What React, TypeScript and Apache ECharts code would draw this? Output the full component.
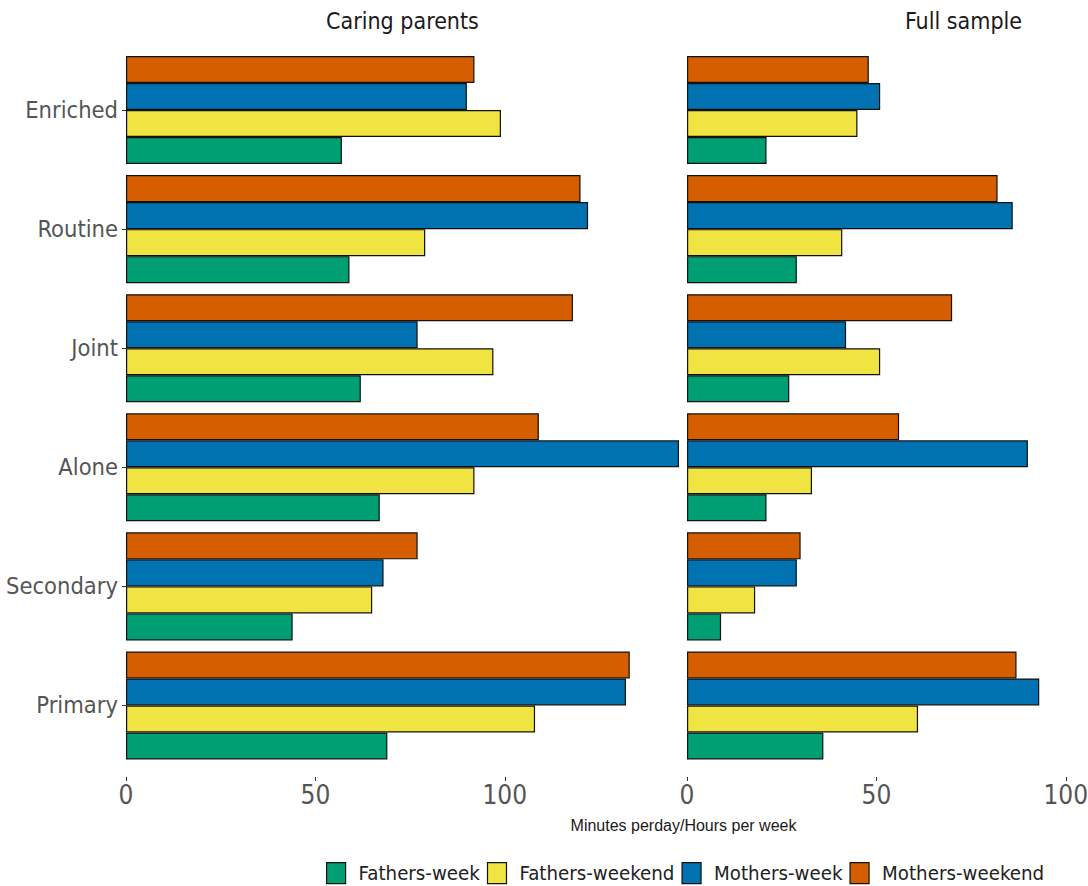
import React, { useEffect, useRef } from "react";
import * as echarts from "echarts";

const categories = ["Enriched", "Routine", "Joint", "Alone", "Secondary", "Primary"];
const seriesNames = ["Fathers-week", "Fathers-weekend", "Mothers-week", "Mothers-weekend"];
const seriesColors = ["#009E73", "#F0E442", "#0072B2", "#D55E00"];

// Caring parents
const fathersWeekCaring = [57, 59, 62, 67, 44, 69];
const fathersWeekendCaring = [99, 79, 97, 92, 65, 108];
const mothersWeekCaring = [90, 122, 77, 146, 68, 132];
const mothersWeekendCaring = [92, 120, 118, 109, 77, 133];

// Full sample
const fathersWeekFull = [21, 29, 27, 21, 9, 36];
const fathersWeekendFull = [45, 41, 51, 33, 18, 61];
const mothersWeekFull = [51, 86, 42, 90, 29, 93];
const mothersWeekendFull = [48, 82, 70, 56, 30, 87];

const panelTitles = ["Caring parents", "Full sample"];
const xTitle = "Minutes perday/Hours per week";

const NARROW = "'Liberation Sans Narrow', 'DejaVu Sans Condensed', 'Roboto Condensed', 'Liberation Sans', sans-serif";

export default function App() {
  const ref = useRef<HTMLDivElement>(null);

  useEffect(() => {
    document.body.style.margin = "0";
    if (!ref.current) return;
    const chart = echarts.init(ref.current, null, { renderer: "svg" });

    const caring = [fathersWeekCaring, fathersWeekendCaring, mothersWeekCaring, mothersWeekendCaring];
    const full = [fathersWeekFull, fathersWeekendFull, mothersWeekFull, mothersWeekendFull];
    // draw order: top bar first
    const order = [3, 2, 1, 0];

    const grids = [
      { left: 126, top: 50.5, width: 553, height: 714.5, outerBoundsMode: "none", containLabel: false },
      { left: 687, top: 50.5, width: 553, height: 714.5, outerBoundsMode: "none", containLabel: false },
    ];

    const xAxes = [0, 1].map((i) => ({
      type: "value",
      gridIndex: i,
      min: 0,
      max: 146,
      interval: 50,
      offset: 12,
      axisLine: { show: false },
      axisTick: { show: true, length: 4, lineStyle: { color: "#333", width: 1 } },
      splitLine: { show: false },
      axisLabel: {
        show: true,
        margin: 5,
        showMaxLabel: false,
        fontFamily: NARROW,
        fontSize: 26,
        color: "#555",
      },
    }));

    const yAxes = [0, 1].map((i) => ({
      type: "category",
      gridIndex: i,
      data: categories,
      inverse: true,
      axisLine: { show: false },
      axisTick: { show: i === 0, length: 4, alignWithLabel: true, lineStyle: { color: "#333", width: 1 } },
      axisLabel: {
        show: i === 0,
        margin: 8,
        fontFamily: NARROW,
        fontSize: 23.5,
        color: "#555",
      },
    }));

    const series: any[] = [];
    [caring, full].forEach((panel, gi) => {
      order.forEach((si) => {
        series.push({
          type: "bar",
          name: seriesNames[si],
          xAxisIndex: gi,
          yAxisIndex: gi,
          data: panel[si],
          barGap: "0%",
          barCategoryGap: "9.3%",
          itemStyle: { color: seriesColors[si], borderColor: "#111", borderWidth: 1.2 },
          emphasis: { disabled: true },
        });
      });
    });

    chart.setOption({
      animation: false,
      grid: grids,
      xAxis: xAxes,
      yAxis: yAxes,
      series,
      legend: {
        data: seriesNames,
        left: 321,
        top: 857,
        itemWidth: 19,
        itemHeight: 21,
        itemGap: 7,
        icon: "rect",
        selectedMode: false,
        itemStyle: { borderColor: "#111", borderWidth: 1.2 },
        textStyle: { fontFamily: NARROW, fontSize: 20.3, color: "#222", padding: [0, 0, 0, 8] },
      },
      graphic: [
        {
          type: "text",
          x: 402.5,
          y: 21,
          style: {
            text: panelTitles[0],
            fontFamily: NARROW,
            fontSize: 23,
            fill: "#1a1a1a",
            align: "center",
            verticalAlign: "middle",
          },
        },
        {
          type: "text",
          x: 963.5,
          y: 21,
          style: {
            text: panelTitles[1],
            fontFamily: NARROW,
            fontSize: 23,
            fill: "#1a1a1a",
            align: "center",
            verticalAlign: "middle",
          },
        },
        {
          type: "text",
          x: 683.5,
          y: 825,
          style: {
            text: xTitle,
            fontFamily: "'Liberation Sans', Arial, sans-serif",
            fontSize: 16,
            fill: "#1a1a1a",
            align: "center",
            verticalAlign: "middle",
          },
        },
      ],
    });

    return () => chart.dispose();
  }, []);

  return <div ref={ref} style={{ width: 1088, height: 886 }} />;
}
